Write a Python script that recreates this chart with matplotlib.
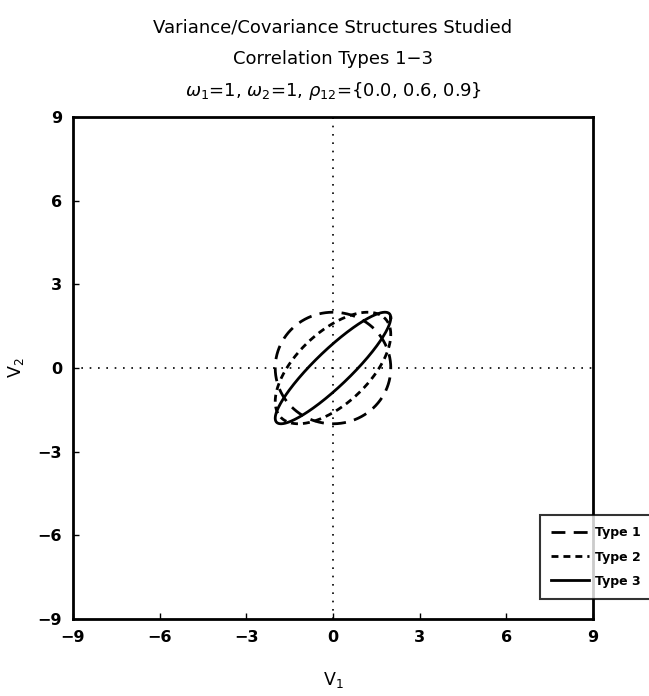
import matplotlib
matplotlib.use("Agg")
import matplotlib.pyplot as plt
import numpy as np

# parameters of the three variance/covariance structures
omega1 = 1.0
omega2 = 1.0
rho12 = [0.0, 0.6, 0.9]
type_labels = ["Type 1", "Type 2", "Type 3"]
contour_radius = 2.0

ticks = [-9, -6, -3, 0, 3, 6, 9]

title_lines = [
    "Variance/Covariance Structures Studied",
    "Correlation Types 1\u22123",
    r"$\omega_1$=1, $\omega_2$=1, $\rho_{12}$={0.0, 0.6, 0.9}",
]

styles = [
    dict(linestyle=(0, (5, 3))),
    dict(linestyle=(0, (2.5, 1.8))),
    dict(linestyle="-"),
]

plt.rcParams["font.family"] = ["DejaVu Sans"]
plt.rcParams["mathtext.fontset"] = "dejavusans"

W, H = 649, 696
fig = plt.figure(figsize=(W / 100, H / 100), dpi=100)
ax = fig.add_axes([73 / W, 1 - 619 / H, 520 / W, 502 / H])

t = np.linspace(0, 2 * np.pi, 400)
for rho, label, st in zip(rho12, type_labels, styles):
    phi = np.arccos(rho)
    x = contour_radius * omega1 * np.cos(t)
    y = contour_radius * omega2 * np.cos(t - phi)
    ax.plot(x, y, color="black", lw=2.0, label=label, **st)

ax.axhline(0, color="black", lw=1.2, linestyle=(0, (1, 4)))
ax.axvline(0, color="black", lw=1.2, linestyle=(0, (1, 4)))

ax.set_xlim(-9, 9)
ax.set_ylim(-9, 9)
ax.set_xticks(ticks)
ax.set_yticks(ticks)
ax.set_xticklabels([str(v).replace("-", "\u2212") for v in ticks])
ax.set_yticklabels([str(v).replace("-", "\u2212") for v in ticks])
ax.tick_params(direction="in", length=4, width=1, labelsize=11.5, pad=8)
for lab in ax.get_xticklabels() + ax.get_yticklabels():
    lab.set_fontweight("bold")
for s in ax.spines.values():
    s.set_linewidth(2.0)

ax.set_xlabel(r"V$_1$", fontsize=12.5, labelpad=18)
ax.set_ylabel(r"V$_2$", fontsize=12.5, labelpad=8)

for i, line in enumerate(title_lines):
    fig.text(333 / W, 1 - (27 + 32 * i) / H, line, ha="center", va="center",
             fontsize=13)

leg = ax.legend(loc="lower left", bbox_to_anchor=(540 / W, 1 - 599 / H),
                bbox_transform=fig.transFigure, fancybox=False, frameon=True,
                edgecolor="black", fontsize=9, handlelength=3.0,
                borderaxespad=0, borderpad=0.9, labelspacing=0.9,
                handletextpad=0.5)
leg.get_frame().set_linewidth(1.5)
for txt in leg.get_texts():
    txt.set_fontweight("bold")

fig.savefig("out.png", dpi=100)
